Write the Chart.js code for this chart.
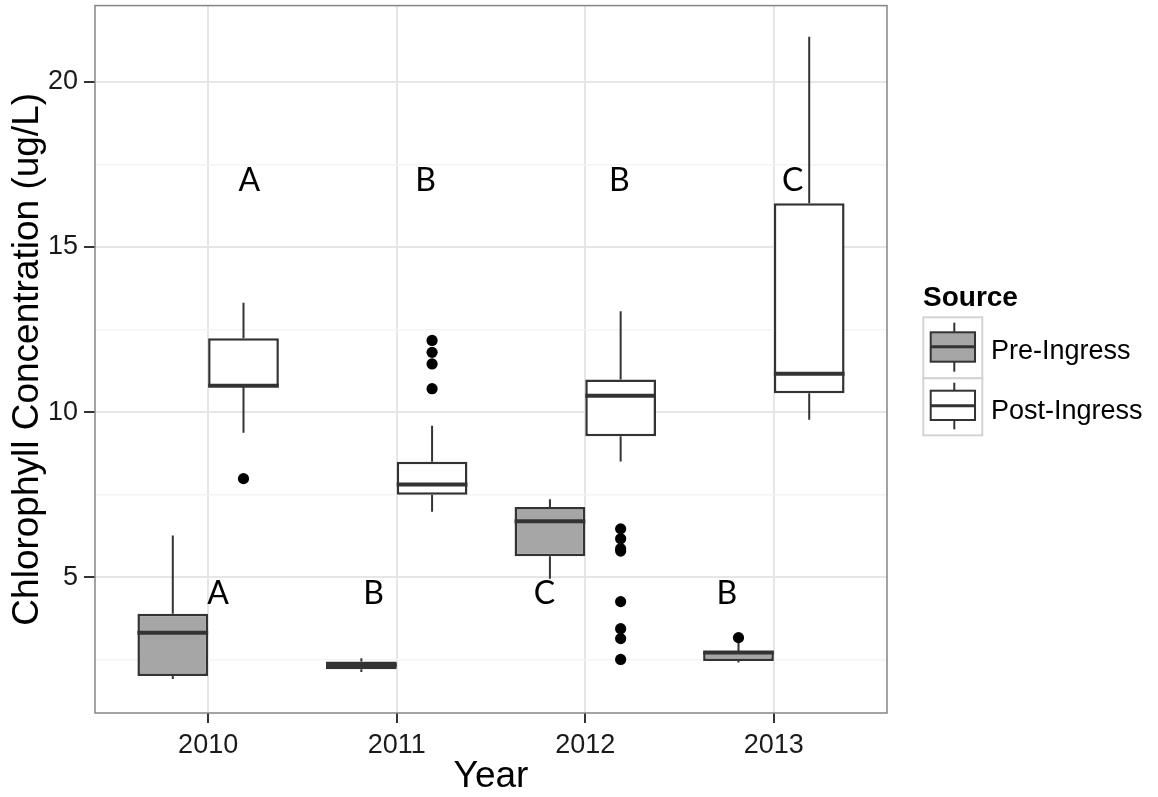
<!DOCTYPE html>
<html><head><meta charset="utf-8">
<script src="https://cdn.jsdelivr.net/npm/chart.js@4.4.0/dist/chart.umd.min.js"></script>
<style>
html,body{margin:0;padding:0;background:#fff;}
#wrap{position:relative;width:1158px;height:797px;overflow:hidden;}
#c{position:absolute;left:0;top:0;}
.lg{position:absolute;font-family:"Liberation Sans",Arial,sans-serif;color:#000;white-space:nowrap;}
#lgTitle{left:923px;top:283px;font-size:28px;line-height:28px;font-weight:bold;}
#lgPre{left:991px;top:336px;font-size:27px;line-height:28px;}
#lgPost{left:991px;top:396px;font-size:27px;line-height:28px;}
#lgKeys{position:absolute;left:922px;top:316px;}
</style></head><body>
<div id="wrap">
<canvas id="c" width="1158" height="797"></canvas>
<div class="lg" id="lgTitle">Source</div>
<svg id="lgKeys" width="64" height="124" viewBox="0 0 64 124">
  <rect x="1.3" y="1.3" width="59" height="61" fill="#fff" stroke="#d4d4d4" stroke-width="2"/>
  <rect x="1.3" y="62.3" width="59" height="57" fill="#fff" stroke="#d4d4d4" stroke-width="2"/>
  <line x1="32.3" y1="6.7" x2="32.3" y2="16.3" stroke="#333" stroke-width="2"/>
  <line x1="32.3" y1="45.7" x2="32.3" y2="55.7" stroke="#333" stroke-width="2"/>
  <rect x="8.7" y="16.3" width="44.3" height="29.4" fill="#a6a6a6" stroke="#333" stroke-width="2"/>
  <line x1="8.7" y1="30.7" x2="53" y2="30.7" stroke="#333" stroke-width="3"/>
  <line x1="32.3" y1="66.7" x2="32.3" y2="74.7" stroke="#333" stroke-width="2"/>
  <line x1="32.3" y1="104" x2="32.3" y2="113.3" stroke="#333" stroke-width="2"/>
  <rect x="8.7" y="74.7" width="44.3" height="29.3" fill="#fff" stroke="#333" stroke-width="2"/>
  <line x1="8.7" y1="89.7" x2="53" y2="89.7" stroke="#333" stroke-width="3"/>
</svg>
<div class="lg" id="lgPre">Pre-Ingress</div>
<div class="lg" id="lgPost">Post-Ingress</div>
</div>
<script>
// ---- data ----
const years = ['2010', '2011', '2012', '2013'];
const seriesNames = ['Pre-Ingress', 'Post-Ingress'];

const preMin    = [1.93, 2.14, 4.96, 2.43];
const preQ1     = [2.02, 2.22, 5.64, 2.47];
const preMedian = [3.33, 2.35, 6.70, 2.73];
const preQ3     = [3.90, 2.46, 7.13, 2.76];
const preMax    = [6.27, 2.56, 7.37, 3.02];
const preOutliers = [[], [], [], [3.18]];

const postMin    = [9.38, 6.99, 8.51, 9.77];
const postQ1     = [10.78, 7.50, 9.27, 10.57];
const postMedian = [10.80, 7.81, 10.50, 11.16];
const postQ3     = [12.24, 8.50, 10.99, 16.32];
const postMax    = [13.31, 9.59, 13.05, 21.36];
const postOutliers = [[7.99], [12.17, 11.81, 11.46, 10.71], [6.47, 6.17, 5.87, 5.80, 4.27, 3.45, 3.15, 2.52], []];

const preLetters  = ['A', 'B', 'C', 'B'];
const preLetterX  = [1.053, 1.878, 2.783, 3.751];
const preLetterY  = [4.5, 4.5, 4.5, 4.5];
const postLetters = ['A', 'B', 'B', 'C'];
const postLetterX = [1.218, 2.153, 3.180, 4.100];
const postLetterY = [17, 17, 17, 17];

const yMajorTicks = [5, 10, 15, 20];
const yMinorTicks = [2.5, 7.5, 12.5, 17.5];

// ---- build ----
const dodge = 0.1875;
const preBoxes  = years.map((y, i) => ({x: i + 1, y: [preQ1[i], preQ3[i]]}));
const postBoxes = years.map((y, i) => ({x: i + 1, y: [postQ1[i], postQ3[i]]}));
const outlierPts = [];
preOutliers.forEach((arr, i) => arr.forEach(v => outlierPts.push({x: i + 1 - dodge, y: v})));
postOutliers.forEach((arr, i) => arr.forEach(v => outlierPts.push({x: i + 1 + dodge, y: v})));

const stats = [
  {min: preMin, med: preMedian, q1: preQ1, q3: preQ3, max: preMax},
  {min: postMin, med: postMedian, q1: postQ1, q3: postQ3, max: postMax}
];

const isMajor = v => yMajorTicks.indexOf(v) >= 0;
const LINE = '#333333';

const boxplotPlugin = {
  id: 'boxplotParts',
  beforeDatasetsDraw(chart) {
    const {ctx, chartArea: a} = chart;
    const ys = chart.scales.y;
    ctx.save();
    ctx.beginPath(); ctx.rect(a.left, a.top, a.right - a.left, a.bottom - a.top); ctx.clip();
    ctx.strokeStyle = LINE; ctx.lineWidth = 2; ctx.lineCap = 'butt';
    [0, 1].forEach(d => {
      const meta = chart.getDatasetMeta(d);
      meta.data.forEach((el, i) => {
        const s = stats[d];
        ctx.beginPath();
        ctx.moveTo(el.x, ys.getPixelForValue(s.max[i]));
        ctx.lineTo(el.x, ys.getPixelForValue(s.q3[i]));
        ctx.moveTo(el.x, ys.getPixelForValue(s.q1[i]));
        ctx.lineTo(el.x, ys.getPixelForValue(s.min[i]));
        ctx.stroke();
      });
    });
    ctx.restore();
  },
  afterDatasetsDraw(chart) {
    const {ctx} = chart;
    const ys = chart.scales.y, xs = chart.scales.x;
    ctx.save();
    ctx.strokeStyle = LINE; ctx.lineWidth = 4;
    [0, 1].forEach(d => {
      const meta = chart.getDatasetMeta(d);
      meta.data.forEach((el, i) => {
        const y = ys.getPixelForValue(stats[d].med[i]);
        ctx.beginPath();
        ctx.moveTo(el.x - el.width / 2, y);
        ctx.lineTo(el.x + el.width / 2, y);
        ctx.stroke();
      });
    });
    // significance letters
    ctx.fillStyle = '#000';
    ctx.font = '32px Lato, "Open Sans", sans-serif';
    ctx.textAlign = 'center'; ctx.textBaseline = 'middle';
    preLetters.forEach((t, i) => ctx.fillText(t, xs.getPixelForValue(preLetterX[i]), ys.getPixelForValue(preLetterY[i])));
    postLetters.forEach((t, i) => ctx.fillText(t, xs.getPixelForValue(postLetterX[i]), ys.getPixelForValue(postLetterY[i])));
    ctx.restore();
  },
  afterDraw(chart) {
    const {ctx, chartArea: a} = chart;
    ctx.save();
    ctx.strokeStyle = '#858585'; ctx.lineWidth = 1.5;
    ctx.strokeRect(a.left, a.top, a.right - a.left, a.bottom - a.top);
    ctx.restore();
  }
};

Chart.defaults.font.family = '"Liberation Sans", Arial, sans-serif';
Chart.defaults.color = '#1a1a1a';

new Chart(document.getElementById('c'), {
  type: 'bar',
  data: {
    datasets: [
      {type: 'bar', label: seriesNames[0], data: preBoxes, backgroundColor: '#a6a6a6', borderColor: LINE, borderWidth: 2.5, borderSkipped: false, categoryPercentage: 0.75, barPercentage: 1, order: 2},
      {type: 'bar', label: seriesNames[1], data: postBoxes, backgroundColor: '#ffffff', borderColor: LINE, borderWidth: 2.5, borderSkipped: false, categoryPercentage: 0.75, barPercentage: 1, order: 2},
      {type: 'scatter', label: 'outliers', data: outlierPts, pointRadius: 5.6, pointBackgroundColor: '#000', pointBorderWidth: 0, pointHoverRadius: 5.6, order: 1}
    ]
  },
  options: {
    responsive: false,
    animation: false,
    events: [],
    devicePixelRatio: 1,
    layout: {padding: {left: 0, top: 5, right: 271, bottom: 0}},
    plugins: {legend: {display: false}, tooltip: {enabled: false}},
    scales: {
      x: {
        type: 'linear', min: 0.4, max: 4.6, offset: false,
        afterBuildTicks: s => { s.ticks = years.map((y, i) => ({value: i + 1})); },
        afterFit: s => { s.height = 84; s.paddingLeft = 0; s.paddingRight = 0; },
        ticks: {callback: v => years[Math.round(v) - 1], font: {size: 27}, color: '#1a1a1a', padding: 6, autoSkip: false, maxRotation: 0},
        grid: {offset: false, color: '#e6e6e6', lineWidth: 2, tickColor: LINE, tickLength: 10, tickWidth: 2},
        border: {display: false},
        title: {display: true, text: 'Year', font: {size: 37, lineHeight: 1.1}, color: '#000', padding: {top: 0, bottom: 0}}
      },
      y: {
        type: 'linear', min: 0.9, max: 22.3, beginAtZero: false,
        afterBuildTicks: s => { s.ticks = yMinorTicks.concat(yMajorTicks).sort((a, b) => a - b).map(v => ({value: v})); },
        afterFit: s => { s.width = 95; s.paddingTop = 0; s.paddingBottom = 0; },
        ticks: {callback: v => isMajor(v) ? String(v) : '', font: {size: 27}, color: '#1a1a1a', padding: 6, autoSkip: false},
        grid: {
          color: c => isMajor(c.tick.value) ? '#e6e6e6' : '#f4f4f4',
          lineWidth: c => isMajor(c.tick.value) ? 2 : 1.5,
          tickColor: c => isMajor(c.tick.value) ? LINE : 'rgba(0,0,0,0)',
          tickLength: 11, tickWidth: 2
        },
        border: {display: false},
        title: {display: true, text: 'Chlorophyll Concentration (ug/L)', font: {size: 37, lineHeight: 1.1}, color: '#000', padding: {top: 7, bottom: 0}}
      }
    }
  },
  plugins: [boxplotPlugin]
});
</script>
</body></html>
